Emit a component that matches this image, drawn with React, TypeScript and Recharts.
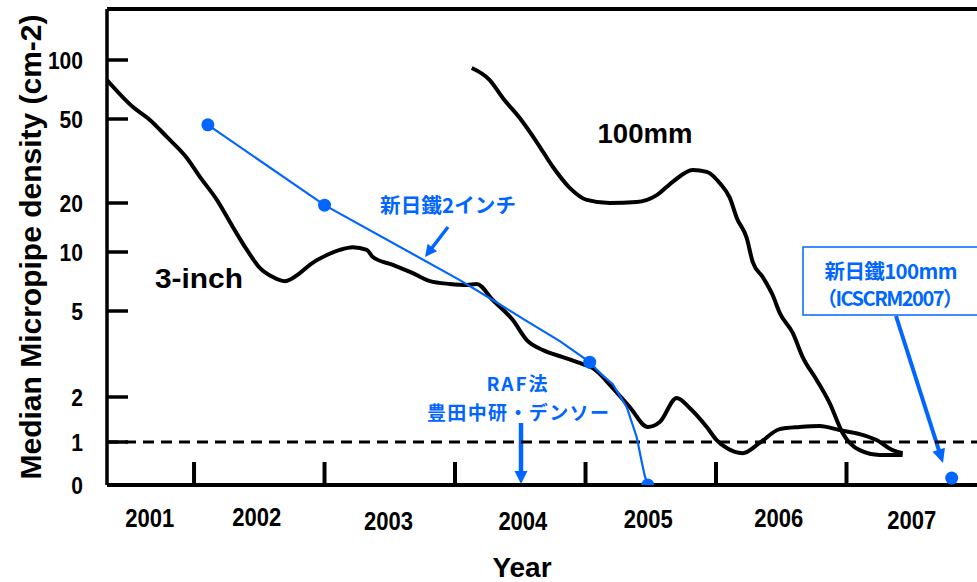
import React from 'react';
import { ComposedChart, Line, XAxis, YAxis, ReferenceLine, Customized } from 'recharts';

// ---------------- data ----------------
const YEAR_LABELS = ['2001', '2002', '2003', '2004', '2005', '2006', '2007'];
const YEAR_LABEL_POS = [2001.66, 2002.48, 2003.49, 2004.52, 2005.48, 2006.48, 2007.5];
const YEAR_BOUNDARIES = [2002, 2003, 2004, 2005, 2006, 2007];
const Y_TICK_VALUES = [0, 1, 2, 5, 10, 20, 50, 100];
const Y_TICK_LABELS = ['0', '1', '2', '5', '10', '20', '50', '100'];
const THRESHOLD = 1;

// [year, median micropipe density]
const THREE_INCH: [number, number][] = [
  [2001.333, 79], [2001.532, 57.5], [2001.662, 49.5], [2001.792, 41.1], [2001.945, 32.7],
  [2002.045, 26.6], [2002.175, 20.7], [2002.298, 14.2], [2002.405, 10.3], [2002.504, 8.3],
  [2002.604, 7.45], [2002.696, 7.1], [2002.811, 7.8], [2002.887, 8.6], [2003.018, 9.65],
  [2003.117, 10.3], [2003.217, 10.7], [2003.324, 10.3], [2003.37, 9.43], [2003.523, 8.6],
  [2003.676, 7.8], [2003.807, 7.1], [2003.96, 6.87], [2004.09, 6.79], [2004.167, 6.87],
  [2004.289, 5.69], [2004.443, 4.54], [2004.55, 3.67], [2004.672, 3.3], [2004.826, 3.06],
  [2004.979, 2.84], [2005.055, 2.72], [2005.209, 2.2], [2005.339, 1.71], [2005.477, 1.26],
  [2005.569, 1.36], [2005.699, 1.97], [2005.798, 1.69], [2005.929, 1.26], [2006.005, 1.03],
  [2006.082, 0.86], [2006.204, 0.74], [2006.335, 0.98], [2006.488, 1.22], [2006.641, 1.26],
  [2006.794, 1.28], [2006.948, 1.2], [2007.101, 1.13], [2007.231, 1.03], [2007.353, 0.81],
  [2007.43, 0.74],
];

const MM100: [number, number][] = [
  [2004.128, 91], [2004.266, 79], [2004.366, 64], [2004.496, 50.6], [2004.626, 38.9],
  [2004.749, 29.7], [2004.879, 23.6], [2005.009, 20.7], [2005.186, 20], [2005.392, 20.2],
  [2005.546, 21.8], [2005.668, 25.2], [2005.821, 28.7], [2005.929, 28.1], [2006.028, 24.9],
  [2006.105, 21.2], [2006.159, 16.2], [2006.235, 12.2], [2006.281, 8.9], [2006.358, 7.45],
  [2006.434, 6.03], [2006.488, 4.9], [2006.588, 3.96], [2006.664, 3.06], [2006.771, 2.4],
  [2006.871, 1.82], [2006.97, 1.15], [2007.101, 0.81], [2007.254, 0.7], [2007.43, 0.7],
];

// Nippon Steel 2-inch: measured points (with markers) and the traced trend between them
const NSC_2INCH_MEASURED: [number, number][] = [
  [2002.106, 46.9], [2003.0, 19.4], [2005.032, 2.9], [2005.477, 0],
];
const NSC_2INCH_TREND: [number, number][] = [
  [2004.037, 7.19], [2004.289, 5.69], [2004.55, 4.49], [2004.803, 3.63],
  [2005.12, 2.55], [2005.209, 2.29], [2005.316, 1.71], [2005.392, 1.08],
  [2005.431, 0.535], [2005.454, 0.21],
];
const NSC_100MM: [number, number][] = [[2007.806, 0.16]];

// ---------------- scale (hand-drawn axis: knot value -> axis units) ----------------
const SCALE_KNOTS_V = [0, 1, 2, 5, 10, 20, 50, 100];
const SCALE_KNOTS_P = [0, 43, 88, 174, 233, 282, 366, 425];
const Y_MAX = 476;
const X_MIN = 2001.333;
const X_MAX = 2008;

function toPos(v: number): number {
  if (v <= 1) return v * SCALE_KNOTS_P[1];
  let i = 1;
  while (i < SCALE_KNOTS_V.length - 2 && v > SCALE_KNOTS_V[i + 1]) i++;
  const v0 = SCALE_KNOTS_V[i], v1 = SCALE_KNOTS_V[i + 1];
  const p0 = SCALE_KNOTS_P[i], p1 = SCALE_KNOTS_P[i + 1];
  return p0 + ((p1 - p0) * Math.log(v / v0)) / Math.log(v1 / v0);
}

const rows = (arr: [number, number][]) => arr.map(([x, v]) => ({ x, y: toPos(v) }));

const threeInchData = rows(THREE_INCH);
const mm100Data = rows(MM100);
const nsc2Data = [
  ...NSC_2INCH_MEASURED.map(([x, v]) => ({ x, y: toPos(v), m: true })),
  ...NSC_2INCH_TREND.map(([x, v]) => ({ x, y: toPos(v), m: false })),
].sort((a, b) => a.x - b.x);
const nsc100Data = NSC_100MM.map(([x, v]) => ({ x, y: toPos(v), m: true }));

// ---------------- style ----------------
const BLUE = '#0066FF';
const LATIN = '"Liberation Sans", Arial, sans-serif';
const CJK = '"Noto Sans CJK JP", "Noto Sans", sans-serif';
const YEAR_LABEL_DY = [33, 32, 36, 36, 34, 33, 35];

const XTick = (props: any) => {
  const { x, y, payload } = props;
  const v = payload.value;
  const bi = YEAR_BOUNDARIES.indexOf(v);
  if (bi >= 0) {
    return <line x1={x} y1={y} x2={x} y2={y - 23} stroke="#000" strokeWidth={4} />;
  }
  const li = YEAR_LABEL_POS.indexOf(v);
  if (li < 0) return <g />;
  return (
    <text x={x} y={y + YEAR_LABEL_DY[li]} textAnchor="middle" dominantBaseline="central"
      fontFamily={LATIN} fontWeight="bold" fontSize={25} textLength={49}
      lengthAdjust="spacingAndGlyphs" fill="#000">
      {YEAR_LABELS[li]}
    </text>
  );
};

const YTick = (props: any) => {
  const { x, y, index } = props;
  const label = Y_TICK_LABELS[index];
  return (
    <g>
      {index > 0 && <line x1={x} y1={y} x2={x + 21} y2={y} stroke="#000" strokeWidth={3.5} />}
      <text x={x - 24} y={y + 1} textAnchor="end" dominantBaseline="central"
        fontFamily={LATIN} fontWeight="bold" fontSize={23}
        textLength={label.length * 11.7} lengthAdjust="spacingAndGlyphs" fill="#000">
        {label}
      </text>
    </g>
  );
};

const Arrow = ({ x1, y1, x2, y2, w, hl, hw }: any) => {
  const dx = x2 - x1, dy = y2 - y1;
  const len = Math.hypot(dx, dy);
  const ux = dx / len, uy = dy / len;
  const bx = x2 - ux * hl, by = y2 - uy * hl;
  const px = -uy, py = ux;
  return (
    <g>
      <line x1={x1} y1={y1} x2={bx + ux} y2={by + uy} stroke={BLUE} strokeWidth={w} />
      <polygon
        points={`${x2},${y2} ${bx + (px * hw) / 2},${by + (py * hw) / 2} ${bx - (px * hw) / 2},${by - (py * hw) / 2}`}
        fill={BLUE}
      />
    </g>
  );
};

const Annotations = () => (
  <g>
    <text x={30} y={247} transform="rotate(-90 30 247)" textAnchor="middle" dominantBaseline="central"
      fontFamily={LATIN} fontWeight="bold" fontSize={30} textLength={465}
      lengthAdjust="spacingAndGlyphs" fill="#000">
      Median Micropipe density (cm-2)
    </text>
    <text x={522} y={567} textAnchor="middle" dominantBaseline="central"
      fontFamily={LATIN} fontWeight="bold" fontSize={28} fill="#000">
      Year
    </text>
    <text x={199} y={278} textAnchor="middle" dominantBaseline="central"
      fontFamily={LATIN} fontWeight="bold" fontSize={28} textLength={88}
      lengthAdjust="spacingAndGlyphs" fill="#000">
      3-inch
    </text>
    <text x={645} y={133} textAnchor="middle" dominantBaseline="central"
      fontFamily={LATIN} fontWeight="bold" fontSize={28} textLength={95}
      lengthAdjust="spacingAndGlyphs" fill="#000">
      100mm
    </text>

    <text x={448} y={204} textAnchor="middle" dominantBaseline="central"
      fontFamily={CJK} fontWeight="bold" fontSize={20.5} textLength={136}
      lengthAdjust="spacing" fill={BLUE}>
      新日鐵2インチ
    </text>
    <Arrow x1={448} y1={227} x2={425} y2={257} w={3.5} hl={12} hw={12} />

    <text x={517} y={382} textAnchor="middle" dominantBaseline="central"
      fontFamily={CJK} fontWeight="bold" fontSize={19} textLength={61}
      lengthAdjust="spacing" fill={BLUE}>
      RAF法
    </text>
    <text x={518} y={411} textAnchor="middle" dominantBaseline="central"
      fontFamily={CJK} fontWeight="bold" fontSize={19} textLength={182}
      lengthAdjust="spacing" fill={BLUE}>
      豊田中研・デンソー
    </text>
    <Arrow x1={521} y1={423} x2={521} y2={484} w={4.5} hl={13} hw={13} />

    <rect x={803} y={247} width={200} height={68} fill="#fff" stroke={BLUE} strokeWidth={1.5} />
    <text x={891} y={270} textAnchor="middle" dominantBaseline="central"
      fontFamily={CJK} fontWeight="bold" fontSize={20.5} textLength={133}
      lengthAdjust="spacing" fill={BLUE}>
      新日鐵100mm
    </text>
    <text x={890} y={297} textAnchor="middle" dominantBaseline="central"
      fontFamily={CJK} fontWeight="bold" fontSize={20} textLength={146}
      lengthAdjust="spacing" fill={BLUE}>
      （ICSCRM2007）
    </text>
    <Arrow x1={896} y1={316} x2={943} y2={463} w={4} hl={14} hw={13} />
  </g>
);

const blueDot = (props: any) => {
  const { cx, cy, payload, index } = props;
  if (!payload || !payload.m) return <g key={`d${index}`} />;
  return <circle key={`d${index}`} cx={cx} cy={cy} r={6.5} fill={BLUE} stroke="none" />;
};

export default function App() {
  const xTicks = [...YEAR_BOUNDARIES, ...YEAR_LABEL_POS].sort((a, b) => a - b);
  return (
    <div style={{ position: 'absolute', left: 0, top: 0, background: '#fff' }}>
      <ComposedChart width={977} height={582} margin={{ top: 9, right: 0, bottom: 37, left: 7 }}>
        <XAxis type="number" dataKey="x" domain={[X_MIN, X_MAX]} allowDataOverflow
          ticks={xTicks} interval={0} tickLine={false} tickSize={0} tickMargin={0}
          height={60} axisLine={{ stroke: '#000', strokeWidth: 4 }} tick={<XTick />} />
        <YAxis type="number" dataKey="y" domain={[0, Y_MAX]} allowDataOverflow
          ticks={Y_TICK_VALUES.map(toPos)} interval={0} tickLine={false} tickSize={0} tickMargin={0}
          width={100} axisLine={{ stroke: '#000', strokeWidth: 3.5 }} tick={<YTick />} />
        <ReferenceLine y={Y_MAX} stroke="#000" strokeWidth={4} />
        <ReferenceLine y={toPos(THRESHOLD)} stroke="#000" strokeWidth={3} strokeDasharray="11 7" />
        <Line data={threeInchData} dataKey="y" type="monotone" stroke="#000" strokeWidth={4}
          dot={false} activeDot={false} isAnimationActive={false} />
        <Line data={mm100Data} dataKey="y" type="monotone" stroke="#000" strokeWidth={4}
          dot={false} activeDot={false} isAnimationActive={false} />
        <Line data={nsc2Data} dataKey="y" type="linear" stroke={BLUE} strokeWidth={2.2}
          dot={blueDot} activeDot={false} isAnimationActive={false} />
        <Line data={nsc100Data} dataKey="y" type="linear" stroke={BLUE} strokeWidth={2.2}
          dot={blueDot} activeDot={false} isAnimationActive={false} />
        <Customized component={Annotations} />
      </ComposedChart>
    </div>
  );
}
